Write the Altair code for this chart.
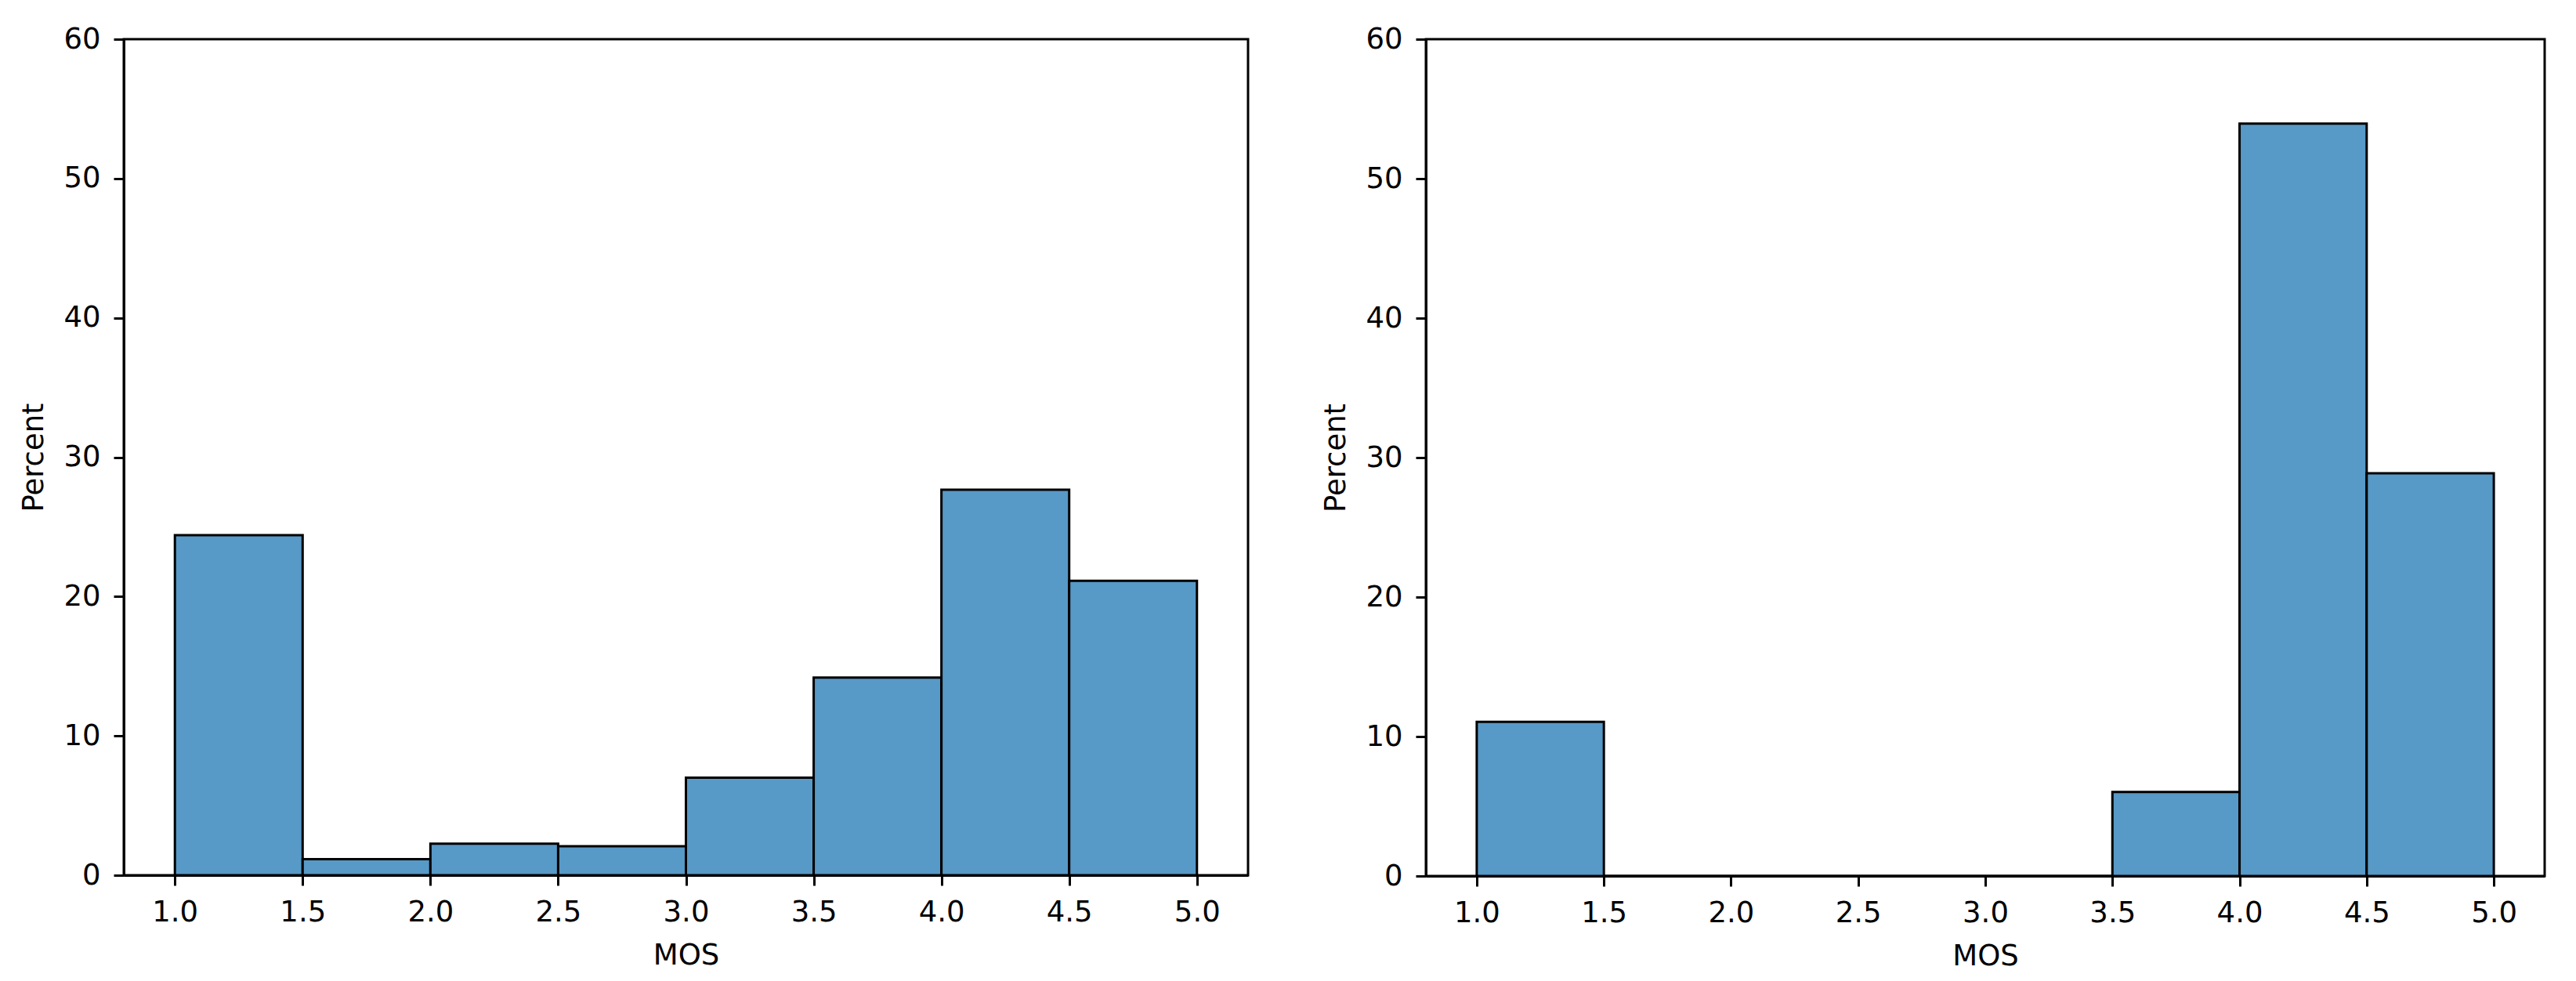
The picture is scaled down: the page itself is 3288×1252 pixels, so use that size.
import altair as alt
import pandas as pd

# Histogram bin edges (MOS) and percentages
bin_edges = [1.0, 1.5, 2.0, 2.5, 3.0, 3.5, 4.0, 4.5, 5.0]
left_percent = [24.4, 1.15, 2.27, 2.08, 7.0, 14.18, 27.66, 21.13]
right_percent = [11.05, 0.0, 0.0, 0.0, 0.0, 6.02, 53.95, 28.88]

x_ticks = [1.0, 1.5, 2.0, 2.5, 3.0, 3.5, 4.0, 4.5, 5.0]
y_ticks = [0, 10, 20, 30, 40, 50, 60]

BAR_FILL = "#5799c7"


def panel(values, width, height):
    df = pd.DataFrame({
        "lo": bin_edges[:-1],
        "hi": bin_edges[1:],
        "pct": values,
    })
    return alt.Chart(df).mark_rect(
        fill=BAR_FILL, stroke="black", strokeWidth=3
    ).encode(
        x=alt.X("lo:Q",
                scale=alt.Scale(domain=[0.8, 5.2], nice=False, zero=False),
                axis=alt.Axis(title="MOS", values=x_ticks, format=".1f")),
        x2="hi:Q",
        y=alt.Y("pct:Q",
                scale=alt.Scale(domain=[0, 60], nice=False),
                axis=alt.Axis(title="Percent", values=y_ticks)),
        y2=alt.datum(0),
    ).properties(width=width, height=height)


left = panel(left_percent, 1435, 1067)
right = panel(right_percent, 1428, 1068)

chart = alt.hconcat(left, right, spacing=90).properties(
    padding={"left": 15, "top": 21, "right": 5, "bottom": 5}
).configure_view(
    stroke="black", strokeWidth=3
).configure_axis(
    grid=False,
    domainColor="black", domainWidth=3,
    tickColor="black", tickWidth=3, tickSize=13,
    labelFont="DejaVu Sans", labelFontSize=37, labelColor="black",
    titleFont="DejaVu Sans", titleFontSize=37, titleFontWeight="normal",
    titleColor="black",
).configure_axisX(
    labelPadding=16, titlePadding=19
).configure_axisY(
    labelPadding=17, titlePadding=18
)

chart.save("out.html", embed_options={"renderer": "svg", "actions": False})
